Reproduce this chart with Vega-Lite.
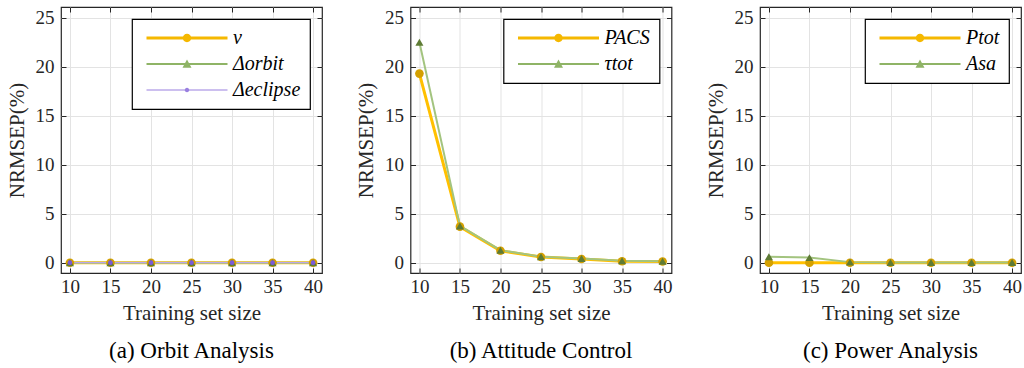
{
  "$schema": "https://vega.github.io/schema/vega-lite/v6.json",
  "padding": {"left": 5, "top": 5, "right": 2, "bottom": 2},
  "background": "white",
  "spacing": 88.5,
  "bounds": "flush",
  "resolve": {
    "scale": {"color": "independent", "fill": "independent", "shape": "independent", "size": "independent", "strokeWidth": "independent", "x": "independent", "y": "independent"},
    "legend": {"color": "independent", "fill": "independent", "shape": "independent", "size": "independent", "strokeWidth": "independent"}
  },
  "config": {
    "font": "Liberation Serif",
    "view": {"stroke": "#262626", "strokeWidth": 1.2},
    "axis": {
      "labelFont": "Liberation Serif",
      "labelFontSize": 19,
      "labelColor": "#262626",
      "titleFont": "Liberation Serif",
      "titleFontSize": 21,
      "titleFontWeight": "normal",
      "titleColor": "#262626",
      "gridColor": "#E3E3E3",
      "gridWidth": 1,
      "tickColor": "#262626",
      "tickSize": -5,
      "domain": false
    },
    "legend": {
      "orient": "top-right",
      "offset": 12,
      "padding": 9,
      "strokeColor": "black",
      "strokeWidth": 1.2,
      "fillColor": "white",
      "labelFont": "Liberation Serif",
      "labelFontSize": 20,
      "labelFontStyle": "italic",
      "labelColor": "black",
      "symbolSize": 100,
      "symbolOpacity": 1,
      "symbolOffset": 36,
      "labelOffset": 36,
      "rowPadding": 6,
      "title": null
    },
    "title": {"font": "Liberation Serif", "fontSize": 23, "fontWeight": "normal", "color": "black", "orient": "bottom", "offset": 17}
  },
  "hconcat": [
    {
      "title": "(a) Orbit Analysis",
      "width": 261,
      "height": 266,
      "data": {"values": [
        {"series": "v", "n": 10, "value": 0}, {"series": "v", "n": 15, "value": 0}, {"series": "v", "n": 20, "value": 0}, {"series": "v", "n": 25, "value": 0}, {"series": "v", "n": 30, "value": 0}, {"series": "v", "n": 35, "value": 0}, {"series": "v", "n": 40, "value": 0},
        {"series": "Δorbit", "n": 10, "value": 0}, {"series": "Δorbit", "n": 15, "value": 0}, {"series": "Δorbit", "n": 20, "value": 0}, {"series": "Δorbit", "n": 25, "value": 0}, {"series": "Δorbit", "n": 30, "value": 0}, {"series": "Δorbit", "n": 35, "value": 0}, {"series": "Δorbit", "n": 40, "value": 0},
        {"series": "Δeclipse", "n": 10, "value": 0}, {"series": "Δeclipse", "n": 15, "value": 0}, {"series": "Δeclipse", "n": 20, "value": 0}, {"series": "Δeclipse", "n": 25, "value": 0}, {"series": "Δeclipse", "n": 30, "value": 0}, {"series": "Δeclipse", "n": 35, "value": 0}, {"series": "Δeclipse", "n": 40, "value": 0}
      ]},
      "resolve": {"axis": {"x": "independent", "y": "independent"}, "scale": {"shape": "independent", "fill": "independent"}},
      "layer": [
        {
          "mark": {"type": "line"},
          "encoding": {
            "x": {"field": "n", "type": "quantitative", "scale": {"domain": [8.9, 41.1], "nice": false, "zero": false}, "axis": {"values": [10, 15, 20, 25, 30, 35, 40], "title": "Training set size", "labelPadding": 9, "titlePadding": 6}},
            "y": {"field": "value", "type": "quantitative", "scale": {"domain": [-1.05, 26.1], "nice": false, "zero": false}, "axis": {"values": [0, 5, 10, 15, 20, 25], "title": "NRMSEP(%)", "labelPadding": 12, "titlePadding": 8}},
            "color": {"field": "series", "type": "nominal", "scale": {"domain": ["v", "Δorbit", "Δeclipse"], "range": ["#FFC000", "#A3C47F", "#B9A6EC"]}, "legend": null},
            "strokeWidth": {"field": "series", "type": "nominal", "scale": {"type": "ordinal", "domain": ["v", "Δorbit", "Δeclipse"], "range": [3, 2, 1.2]}, "legend": null}
          }
        },
        {
          "mark": {"type": "point", "filled": true, "opacity": 1, "strokeWidth": 0},
          "encoding": {
            "x": {"field": "n", "type": "quantitative", "axis": {"orient": "top", "values": [10, 15, 20, 25, 30, 35, 40], "labels": false, "grid": false, "title": null}},
            "y": {"field": "value", "type": "quantitative", "axis": {"orient": "right", "values": [0, 5, 10, 15, 20, 25], "labels": false, "grid": false, "title": null}},
            "fill": {"field": "series", "type": "nominal", "scale": {"domain": ["v", "Δorbit", "Δeclipse"], "range": ["#D4A000", "#5E7B35", "#7B5BD8"]}, "legend": null},
            "shape": {"field": "series", "type": "nominal", "scale": {"domain": ["v", "Δorbit", "Δeclipse"], "range": ["circle", "triangle-up", "circle"]}, "legend": null},
            "size": {"field": "series", "type": "nominal", "scale": {"type": "ordinal", "domain": ["v", "Δorbit", "Δeclipse"], "range": [75, 65, 22]}, "legend": null}
          }
        },
        {
          "transform": [{"filter": "datum.n < 0"}],
          "mark": {"type": "point", "filled": true, "opacity": 1},
          "encoding": {
            "x": {"field": "n", "type": "quantitative", "axis": null},
            "y": {"field": "value", "type": "quantitative", "axis": null},
            "fill": {"field": "series", "type": "nominal", "scale": {"domain": ["v", "Δorbit", "Δeclipse"], "range": ["#F5B800", "#8FB466", "#9A80E0"]}},
            "shape": {"field": "series", "type": "nominal", "scale": {"domain": ["v", "Δorbit", "Δeclipse"], "range": ["M-8.1,-0.3L8.1,-0.3L8.1,0.3L-8.1,0.3ZM0.84,0A0.84,0.84,0,1,1,-0.84,0A0.84,0.84,0,1,1,0.84,0Z", "M-8.1,-0.2L8.1,-0.2L8.1,0.2L-8.1,0.2ZM0,-0.9L0.9,0.75L-0.9,0.75Z", "M-8.1,-0.12L8.1,-0.12L8.1,0.12L-8.1,0.12ZM0.46,0A0.46,0.46,0,1,1,-0.46,0A0.46,0.46,0,1,1,0.46,0Z"]}}
          }
        }
      ]
    },
    {
      "title": "(b) Attitude Control",
      "width": 261,
      "height": 266,
      "data": {"values": [
        {"series": "PACS", "n": 10, "value": 19.3}, {"series": "PACS", "n": 15, "value": 3.68}, {"series": "PACS", "n": 20, "value": 1.22}, {"series": "PACS", "n": 25, "value": 0.58}, {"series": "PACS", "n": 30, "value": 0.38}, {"series": "PACS", "n": 35, "value": 0.15}, {"series": "PACS", "n": 40, "value": 0.12},
        {"series": "τtot", "n": 10, "value": 22.5}, {"series": "τtot", "n": 15, "value": 3.75}, {"series": "τtot", "n": 20, "value": 1.28}, {"series": "τtot", "n": 25, "value": 0.62}, {"series": "τtot", "n": 30, "value": 0.42}, {"series": "τtot", "n": 35, "value": 0.2}, {"series": "τtot", "n": 40, "value": 0.16}
      ]},
      "resolve": {"axis": {"x": "independent", "y": "independent"}, "scale": {"shape": "independent", "fill": "independent"}},
      "layer": [
        {
          "mark": {"type": "line"},
          "encoding": {
            "x": {"field": "n", "type": "quantitative", "scale": {"domain": [8.9, 41.1], "nice": false, "zero": false}, "axis": {"values": [10, 15, 20, 25, 30, 35, 40], "title": "Training set size", "labelPadding": 9, "titlePadding": 6}},
            "y": {"field": "value", "type": "quantitative", "scale": {"domain": [-1.05, 26.1], "nice": false, "zero": false}, "axis": {"values": [0, 5, 10, 15, 20, 25], "title": "NRMSEP(%)", "labelPadding": 12, "titlePadding": 8}},
            "color": {"field": "series", "type": "nominal", "scale": {"domain": ["PACS", "τtot"], "range": ["#FFC000", "#A3C47F"]}, "legend": null},
            "strokeWidth": {"field": "series", "type": "nominal", "scale": {"type": "ordinal", "domain": ["PACS", "τtot"], "range": [3, 2]}, "legend": null}
          }
        },
        {
          "mark": {"type": "point", "filled": true, "opacity": 1, "strokeWidth": 0},
          "encoding": {
            "x": {"field": "n", "type": "quantitative", "axis": {"orient": "top", "values": [10, 15, 20, 25, 30, 35, 40], "labels": false, "grid": false, "title": null}},
            "y": {"field": "value", "type": "quantitative", "axis": {"orient": "right", "values": [0, 5, 10, 15, 20, 25], "labels": false, "grid": false, "title": null}},
            "fill": {"field": "series", "type": "nominal", "scale": {"domain": ["PACS", "τtot"], "range": ["#D4A000", "#5E7B35"]}, "legend": null},
            "shape": {"field": "series", "type": "nominal", "scale": {"domain": ["PACS", "τtot"], "range": ["circle", "triangle-up"]}, "legend": null},
            "size": {"field": "series", "type": "nominal", "scale": {"type": "ordinal", "domain": ["PACS", "τtot"], "range": [75, 65]}, "legend": null}
          }
        },
        {
          "transform": [{"filter": "datum.n < 0"}],
          "mark": {"type": "point", "filled": true, "opacity": 1},
          "encoding": {
            "x": {"field": "n", "type": "quantitative", "axis": null},
            "y": {"field": "value", "type": "quantitative", "axis": null},
            "fill": {"field": "series", "type": "nominal", "scale": {"domain": ["PACS", "τtot"], "range": ["#F5B800", "#8FB466"]}},
            "shape": {"field": "series", "type": "nominal", "scale": {"domain": ["PACS", "τtot"], "range": ["M-8.1,-0.3L8.1,-0.3L8.1,0.3L-8.1,0.3ZM0.84,0A0.84,0.84,0,1,1,-0.84,0A0.84,0.84,0,1,1,0.84,0Z", "M-8.1,-0.2L8.1,-0.2L8.1,0.2L-8.1,0.2ZM0,-0.9L0.9,0.75L-0.9,0.75Z"]}}
          }
        }
      ]
    },
    {
      "title": "(c) Power Analysis",
      "width": 261,
      "height": 266,
      "data": {"values": [
        {"series": "Ptot", "n": 10, "value": 0}, {"series": "Ptot", "n": 15, "value": 0}, {"series": "Ptot", "n": 20, "value": 0}, {"series": "Ptot", "n": 25, "value": 0}, {"series": "Ptot", "n": 30, "value": 0}, {"series": "Ptot", "n": 35, "value": 0}, {"series": "Ptot", "n": 40, "value": 0},
        {"series": "Asa", "n": 10, "value": 0.62}, {"series": "Asa", "n": 15, "value": 0.52}, {"series": "Asa", "n": 20, "value": 0.06}, {"series": "Asa", "n": 25, "value": 0.03}, {"series": "Asa", "n": 30, "value": 0.02}, {"series": "Asa", "n": 35, "value": 0.02}, {"series": "Asa", "n": 40, "value": 0.02}
      ]},
      "resolve": {"axis": {"x": "independent", "y": "independent"}, "scale": {"shape": "independent", "fill": "independent"}},
      "layer": [
        {
          "mark": {"type": "line"},
          "encoding": {
            "x": {"field": "n", "type": "quantitative", "scale": {"domain": [8.9, 41.1], "nice": false, "zero": false}, "axis": {"values": [10, 15, 20, 25, 30, 35, 40], "title": "Training set size", "labelPadding": 9, "titlePadding": 6}},
            "y": {"field": "value", "type": "quantitative", "scale": {"domain": [-1.05, 26.1], "nice": false, "zero": false}, "axis": {"values": [0, 5, 10, 15, 20, 25], "title": "NRMSEP(%)", "labelPadding": 12, "titlePadding": 8}},
            "color": {"field": "series", "type": "nominal", "scale": {"domain": ["Ptot", "Asa"], "range": ["#FFC000", "#A3C47F"]}, "legend": null},
            "strokeWidth": {"field": "series", "type": "nominal", "scale": {"type": "ordinal", "domain": ["Ptot", "Asa"], "range": [3, 2]}, "legend": null}
          }
        },
        {
          "mark": {"type": "point", "filled": true, "opacity": 1, "strokeWidth": 0},
          "encoding": {
            "x": {"field": "n", "type": "quantitative", "axis": {"orient": "top", "values": [10, 15, 20, 25, 30, 35, 40], "labels": false, "grid": false, "title": null}},
            "y": {"field": "value", "type": "quantitative", "axis": {"orient": "right", "values": [0, 5, 10, 15, 20, 25], "labels": false, "grid": false, "title": null}},
            "fill": {"field": "series", "type": "nominal", "scale": {"domain": ["Ptot", "Asa"], "range": ["#D4A000", "#5E7B35"]}, "legend": null},
            "shape": {"field": "series", "type": "nominal", "scale": {"domain": ["Ptot", "Asa"], "range": ["circle", "triangle-up"]}, "legend": null},
            "size": {"field": "series", "type": "nominal", "scale": {"type": "ordinal", "domain": ["Ptot", "Asa"], "range": [75, 65]}, "legend": null}
          }
        },
        {
          "transform": [{"filter": "datum.n < 0"}],
          "mark": {"type": "point", "filled": true, "opacity": 1},
          "encoding": {
            "x": {"field": "n", "type": "quantitative", "axis": null},
            "y": {"field": "value", "type": "quantitative", "axis": null},
            "fill": {"field": "series", "type": "nominal", "scale": {"domain": ["Ptot", "Asa"], "range": ["#F5B800", "#8FB466"]}},
            "shape": {"field": "series", "type": "nominal", "scale": {"domain": ["Ptot", "Asa"], "range": ["M-8.1,-0.3L8.1,-0.3L8.1,0.3L-8.1,0.3ZM0.84,0A0.84,0.84,0,1,1,-0.84,0A0.84,0.84,0,1,1,0.84,0Z", "M-8.1,-0.2L8.1,-0.2L8.1,0.2L-8.1,0.2ZM0,-0.9L0.9,0.75L-0.9,0.75Z"]}}
          }
        }
      ]
    }
  ]
}
